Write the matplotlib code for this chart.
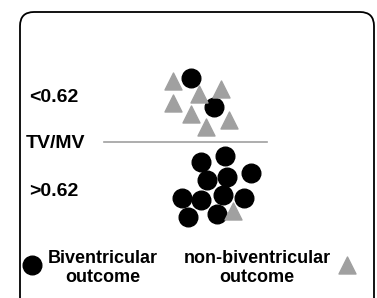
import matplotlib.pyplot as plt
from matplotlib.patches import FancyBboxPatch

# Point positions (image pixel units, y downward)
bv_x = [191, 214, 201, 225, 207, 227, 251, 182, 201, 223, 244, 188, 217]
bv_y = [78, 107, 162, 156, 180, 177, 173, 198, 200, 195, 198, 217, 214]
nbv_x = [173, 199, 221, 173, 191, 206, 229, 233]
nbv_y = [81, 94, 89, 103, 114, 127, 120, 211]

cutoff_labels = ["<0.62", "TV/MV", ">0.62"]
legend_labels = ["Biventricular\noutcome", "non-biventricular\noutcome"]

grey = "#a0a0a0"
plt.rcParams["font.family"] = ["Liberation Sans", "DejaVu Sans"]

fig = plt.figure(figsize=(3.77, 2.98), dpi=100)
ax = fig.add_axes([0, 0, 1, 1])
ax.set_xlim(0, 377)
ax.set_ylim(298, 0)
ax.axis("off")

# rounded frame
box = FancyBboxPatch((20, 12), 354, 300, boxstyle="round,pad=0,rounding_size=14",
                     fc="white", ec="black", lw=1.3)
ax.add_patch(box)

# threshold line
ax.plot([104, 267], [142, 142], color=grey, lw=1.2)

ax.scatter(bv_x, bv_y, s=180, marker="o", color="black", zorder=3)
ax.scatter(nbv_x, nbv_y, s=150, marker="^", color=grey, zorder=3)

txt = dict(fontsize=14, fontweight="bold", va="center")
ax.text(29, 97, cutoff_labels[0], **txt)
ax.text(26, 143, cutoff_labels[1], **txt)
ax.text(29, 191, cutoff_labels[2], **txt)

# legend
ax.scatter([32], [265], s=180, marker="o", color="black")
ax.scatter([347], [265], s=150, marker="^", color=grey)
ax.text(103, 268, legend_labels[0], ha="center", fontsize=13, fontweight="bold",
        va="center", linespacing=1.2)
ax.text(257, 268, legend_labels[1], ha="center", fontsize=13, fontweight="bold",
        va="center", linespacing=1.2)

fig.savefig("out.png", dpi=100)
